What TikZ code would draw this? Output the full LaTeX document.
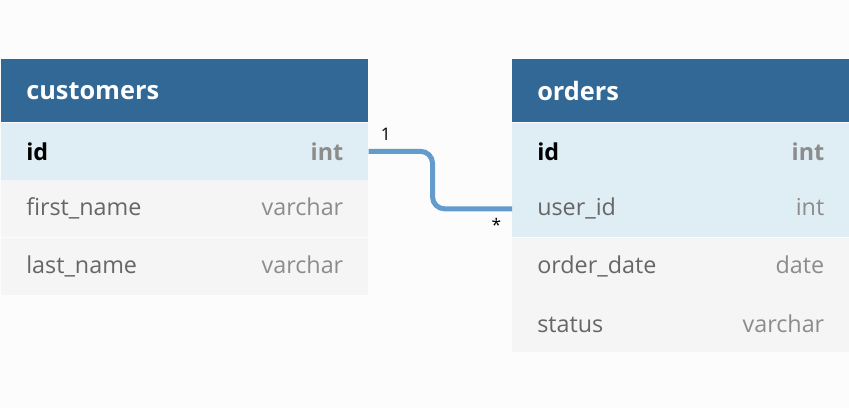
\documentclass[tikz,border=0pt]{standalone}
\usepackage{fontspec}
\setmainfont{Open Sans}
\usetikzlibrary{positioning}
\definecolor{pagebg}{HTML}{FCFCFC}
\definecolor{headblue}{HTML}{316895}
\definecolor{keyblue}{HTML}{DFEDF5}
\definecolor{rowgrey}{HTML}{F5F5F5}
\definecolor{namegrey}{HTML}{666666}
\definecolor{typegrey}{HTML}{8C8C8C}
\definecolor{linkblue}{HTML}{629BCC}
\tikzset{
	tblhead/.style = {fill=headblue, text=white, font=\fontsize{19pt}{21pt}\selectfont\bfseries,
		minimum height=47.25pt, inner xsep=18.75pt, inner ysep=0pt, anchor=north west},
	field/.style = {minimum height=42.75pt, inner xsep=18.75pt, inner ysep=0pt,
		font=\fontsize{17.5pt}{19pt}\selectfont, text=namegrey},
	keyfield/.style = {field, fill=keyblue},
	plainfield/.style = {field, fill=rowgrey},
	relline/.style = {draw=linkblue, line width=3.75pt, rounded corners=9pt},
	card/.style = {font=\fontsize{13pt}{15pt}\selectfont, inner sep=0pt}
}
\begin{document}
\begin{tikzpicture}[x=0.75pt, y=-0.75pt]
    \fill[pagebg] (0,0) rectangle (849,408);
    \useasboundingbox (0,0) rectangle (849,408);
    % Nodes
    \node (customers) [tblhead, text width=237.75pt] at (1,59) {customers};
    \node (cid) [keyfield, text width=237.75pt, below=0pt of customers]
        {\textcolor{black}{\bfseries id}\hfill\textcolor{typegrey}{\bfseries int}};
    \node (cfirst) [plainfield, text width=237.75pt, below=0pt of cid]
        {first\_name\hfill\textcolor{typegrey}{varchar}};
    \node (clast) [plainfield, text width=237.75pt, below=0pt of cfirst]
        {last\_name\hfill\textcolor{typegrey}{varchar}};

    \node (orders) [tblhead, text width=215.25pt] at (512,59) {orders};
    \node (oid) [keyfield, text width=215.25pt, below=0pt of orders]
        {\textcolor{black}{\bfseries id}\hfill\textcolor{typegrey}{\bfseries int}};
    \node (ouser) [keyfield, text width=215.25pt, below=0pt of oid]
        {user\_id\hfill\textcolor{typegrey}{int}};
    \node (odate) [plainfield, text width=215.25pt, below=0pt of ouser]
        {order\_date\hfill\textcolor{typegrey}{date}};
    \node (ostatus) [plainfield, text width=215.25pt, below=0pt of odate]
        {status\hfill\textcolor{typegrey}{varchar}};

    % Arrows
    \draw [relline] (cid.east) -- ++(64,0) |- (ouser.west);
    \node (one) [card, above right=8pt and 9pt of cid.east] {1};
    \node (many) [card, below left=7pt and 8pt of ouser.west] {*};
\end{tikzpicture}
\end{document}
